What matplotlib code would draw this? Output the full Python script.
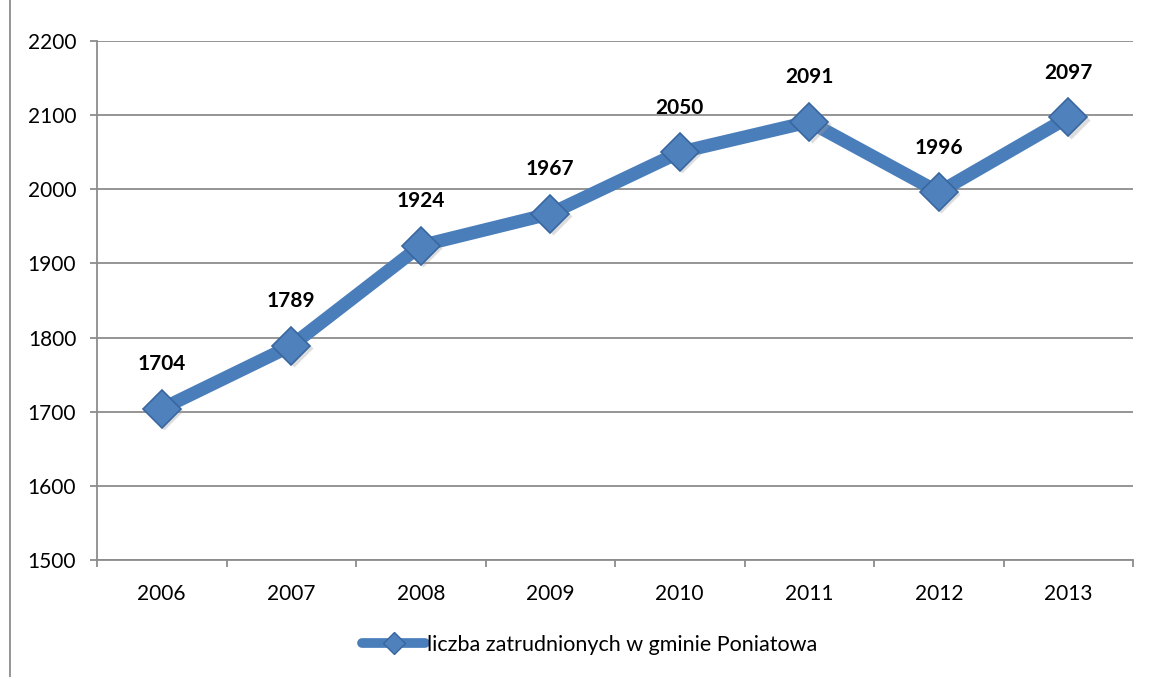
import matplotlib.pyplot as plt
from matplotlib.lines import Line2D

plt.rcParams["font.family"] = ["Lato", "DejaVu Sans"]

years = ["2006", "2007", "2008", "2009", "2010", "2011", "2012", "2013"]
employed = [1704, 1789, 1924, 1967, 2050, 2091, 1996, 2097]
series_name = "liczba zatrudnionych w gminie Poniatowa"

LINE = "#4A7EBB"
FACE = "#4F81BD"
EDGE = "#3A66A0"
GRID = "#8C8C8C"

fig = plt.figure(figsize=(11.52, 6.77), dpi=100)
ax = fig.add_axes([97 / 1152, 117 / 677, 1036 / 1152, 519 / 677])

x = list(range(len(years)))
ax.plot(x, employed, color=LINE, linewidth=9.5, solid_capstyle="round",
        solid_joinstyle="round", zorder=3)
# soft shadow under the markers
ax.plot([i + 0.02 for i in x], [v - 3 for v in employed], linestyle="none",
        marker="D", markersize=19, markerfacecolor="#A0A0A0",
        markeredgecolor="none", alpha=0.35, zorder=3.5)
ax.plot(x, employed, linestyle="none", marker="D", markersize=19,
        markerfacecolor=FACE, markeredgecolor=EDGE, markeredgewidth=1.2, zorder=4)

for xi, v in zip(x, employed):
    ax.annotate(str(v), (xi, v), xytext=(0, 32), textcoords="offset points",
                ha="center", va="center", fontsize=15, fontweight="bold",
                color="black", zorder=5)

ax.set_xlim(-0.5, len(years) - 0.5)
ax.set_ylim(1500, 2200)
ax.set_yticks(range(1500, 2201, 100))
ax.set_xticks(x)
ax.set_xticklabels(years)
ax.set_xticks([i - 0.5 for i in range(len(years) + 1)], minor=True)
ax.tick_params(axis="x", which="major", length=0, pad=17, labelsize=15)
ax.tick_params(axis="x", which="minor", length=5, width=1.3, color=GRID)
ax.tick_params(axis="y", length=5, width=1.3, color=GRID, pad=10, labelsize=15)

ax.grid(axis="y", color=GRID, linewidth=1.3, zorder=0)
ax.set_axisbelow(True)
for side in ["top", "right"]:
    ax.spines[side].set_visible(False)
for side in ["left", "bottom"]:
    ax.spines[side].set_color(GRID)
    ax.spines[side].set_linewidth(1.3)

handle = Line2D([], [], color=LINE, linewidth=7, marker="D", markersize=11,
                markerfacecolor=FACE, markeredgecolor=EDGE, solid_capstyle="round")
fig.legend([handle], [series_name], loc="center", bbox_to_anchor=(0.512, 32 / 677),
           frameon=False, fontsize=15.5, handlelength=2.9, handletextpad=0.1)

# chart area border (left edge visible)
fig.add_artist(Line2D([9.5 / 1152, 9.5 / 1152], [0, 1], color="#8C8C8C",
                      linewidth=1.3, transform=fig.transFigure))

fig.savefig("out.png", dpi=100)
